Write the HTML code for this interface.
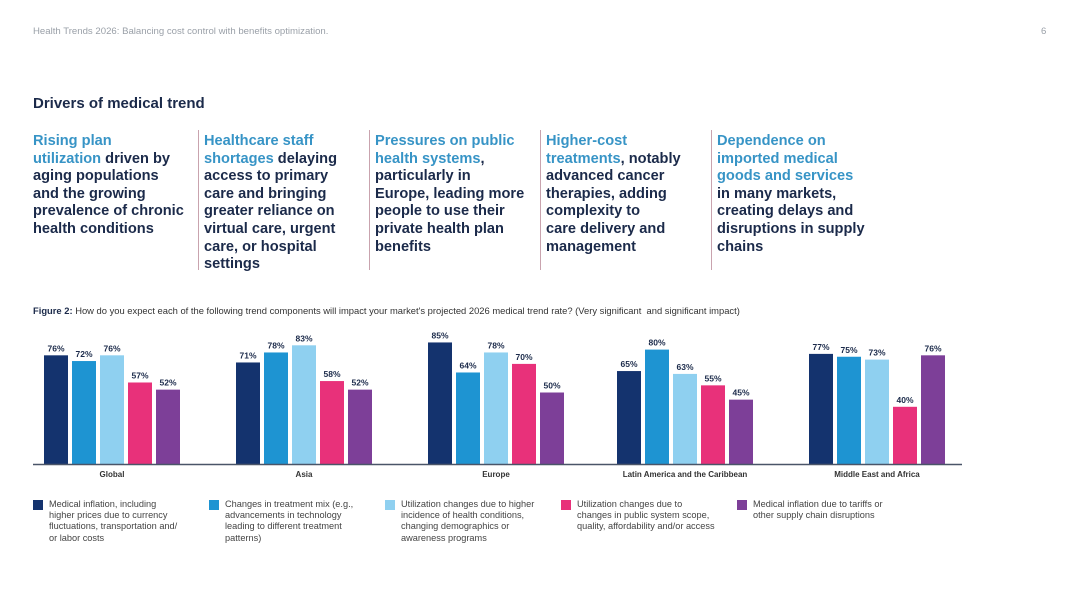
<!DOCTYPE html>
<html><head><meta charset="utf-8"><style>
body{margin:0;width:1080px;height:608px;background:#fff;font-family:"Liberation Sans",sans-serif;position:relative;overflow:hidden}
.hdr{position:absolute;top:26px;font-size:9.6px;color:#9aa0a8}
.title{position:absolute;left:33px;top:95px;font-size:15px;font-weight:bold;color:#1b2a4a}
.blurb{position:absolute;top:133px;width:175px;font-size:14.6px;line-height:17.6px;font-weight:bold;color:#1b2a4a;white-space:nowrap}
.blurb b{color:#3794c6}
.div{position:absolute;top:130px;width:1px;height:140px;background:#c9a3ae}
.fig{position:absolute;left:33px;top:305px;font-size:9.4px;color:#333;white-space:nowrap}
.leg{position:absolute;top:499px;font-size:9.2px;line-height:11.2px;color:#444;padding-left:16px;white-space:nowrap}
.leg i{position:absolute;left:0;top:1px;width:10px;height:10px}
</style></head><body>
<div class="hdr" style="left:33px">Health Trends 2026: Balancing cost control with benefits optimization.</div>
<div class="hdr" style="left:1041px">6</div>
<div class="title">Drivers of medical trend</div>
<div class="blurb" style="left:33px"><b>Rising plan<br>utilization</b> driven by<br>aging populations<br>and the growing<br>prevalence of chronic<br>health conditions</div>
<div class="div" style="left:198px"></div>
<div class="blurb" style="left:204px"><b>Healthcare staff<br>shortages</b> delaying<br>access to primary<br>care and bringing<br>greater reliance on<br>virtual care, urgent<br>care, or hospital<br>settings</div>
<div class="div" style="left:369px"></div>
<div class="blurb" style="left:375px"><b>Pressures on public<br>health systems</b>,<br>particularly in<br>Europe, leading more<br>people to use their<br>private health plan<br>benefits</div>
<div class="div" style="left:540px"></div>
<div class="blurb" style="left:546px"><b>Higher-cost<br>treatments</b>, notably<br>advanced cancer<br>therapies, adding<br>complexity to<br>care delivery and<br>management</div>
<div class="div" style="left:711px"></div>
<div class="blurb" style="left:717px"><b>Dependence on<br>imported medical<br>goods and services</b><br>in many markets,<br>creating delays and<br>disruptions in supply<br>chains</div>
<div class="fig"><b style="color:#1b2a4a">Figure 2:</b> How do you expect each of the following trend components will impact your market's projected 2026 medical trend rate? (Very significant&nbsp; and significant impact)</div>
<svg id="chart" width="1080" height="608" style="position:absolute;left:0;top:0"></svg>
<div class="leg" style="left:33px"><i style="background:#14336e"></i>Medical inflation, including<br>higher prices due to currency<br>fluctuations, transportation and/<br>or labor costs</div>
<div class="leg" style="left:209px"><i style="background:#1e94d2"></i>Changes in treatment mix (e.g.,<br>advancements in technology<br>leading to different treatment<br>patterns)</div>
<div class="leg" style="left:385px"><i style="background:#8fd0f0"></i>Utilization changes due to higher<br>incidence of health conditions,<br>changing demographics or<br>awareness programs</div>
<div class="leg" style="left:561px"><i style="background:#e8317a"></i>Utilization changes due to<br>changes in public system scope,<br>quality, affordability and/or access</div>
<div class="leg" style="left:737px"><i style="background:#7d3f98"></i>Medical inflation due to tariffs or<br>other supply chain disruptions</div>
<script>
const regions=["Global","Asia","Europe","Latin America and the Caribbean","Middle East and Africa"];
const s1=[76,71,85,65,77];
const s2=[72,78,64,80,75];
const s3=[76,83,78,63,73];
const s4=[57,58,70,55,40];
const s5=[52,52,50,45,76];
const series=[s1,s2,s3,s4,s5];
const colors=["#14336e","#1e94d2","#8fd0f0","#e8317a","#7d3f98"];
const NS="http://www.w3.org/2000/svg";
const svg=document.getElementById('chart');
const base=464, pxPer=1.43;
const groupX=[44,236,428,617,809];
const bw=24, step=28;
function y(v){return base-v*pxPer;}
function mk(t,a){const e=document.createElementNS(NS,t);for(const k in a)e.setAttribute(k,a[k]);svg.appendChild(e);return e;}
regions.forEach((r,g)=>{
  series.forEach((s,i)=>{
    const x=groupX[g]+i*step;
    const b=mk('rect',{x:x,y:y(s[g]),width:bw,height:s[g]*pxPer,fill:colors[i]});
    
    
    const t=mk('text',{x:x+bw/2,y:y(s[g])-4,'text-anchor':'middle','font-size':'8.5','font-weight':'bold',fill:'#1b2a4a','font-family':'Liberation Sans'});
    t.textContent=s[g]+'%';
    
    
  });
  const l=mk('text',{x:groupX[g]+(4*step+bw)/2,y:477,'text-anchor':'middle','font-size':'8','font-weight':'bold',fill:'#333','font-family':'Liberation Sans'});
  l.textContent=r;
  
  
});
const ax=mk('line',{x1:33,x2:962,y1:base+0.5,y2:base+0.5,stroke:'#4a5568','stroke-width':1.5});


</script>
</body></html>
